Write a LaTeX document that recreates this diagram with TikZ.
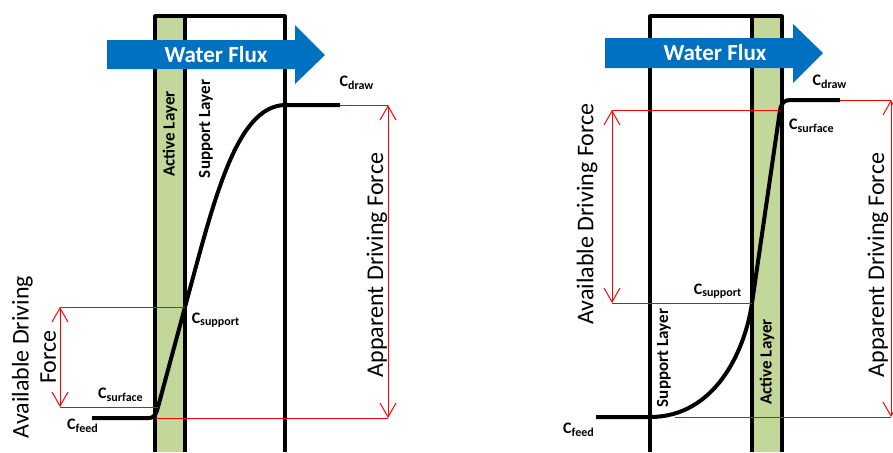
\documentclass[tikz,border=0pt]{standalone}
\usepackage{fontspec}
\setmainfont{Carlito}
\usetikzlibrary{arrows.meta}
\definecolor{fluxBlue}{HTML}{0070C0}
\definecolor{layerGreen}{HTML}{C4D79B}
\newcommand{\conc}[1]{C\textsubscript{#1}}

\begin{document}
\begin{tikzpicture}[x=0.5pt, y=-0.5pt,
  wall/.style={line width=1.6pt, line join=round},
  profile/.style={line width=2pt},
  force/.style={red, line width=0.5pt},
  forcearrow/.style={force, {Straight Barb[length=7pt,width=8pt]}-{Straight Barb[length=7pt,width=8pt]}},
  fluxtext/.style={text=white, font=\fontsize{11.5}{13}\selectfont\bfseries},
  layertext/.style={rotate=90, font=\fontsize{8.5}{10}\selectfont\bfseries},
  conclabel/.style={font=\fontsize{8}{9}\selectfont\bfseries, inner sep=0pt},
  forcetext/.style={rotate=90, font=\fontsize{12}{13.5}\selectfont, align=center}]
\useasboundingbox (0,0) rectangle (893,452);

% left panel
\fill[layerGreen] (155,16) rectangle (185,452);
\draw[wall] (155,452) -- (155,16) -- (285,16) -- (285,452);
\draw[wall] (185,16) -- (185,452);
\fill[fluxBlue] (107,40) -- (295,40) -- (295,25) -- (325,55) -- (295,84) -- (295,69) -- (107,69) -- cycle;
\node[fluxtext] (lflux) at (216,55) {Water Flux};
\node[layertext] (lactive) at (170,134) {Active Layer};
\node[layertext] (lsupport) at (206,129) {Support Layer};

\coordinate (lfeedend) at (92,418);
\coordinate (lfeedcorner) at (156,418);
\coordinate (lsurf) at (158,407);
\coordinate (lsupp) at (185,307);
\coordinate (ldraw) at (285,105);
\coordinate (ldrawend) at (340,105);
\draw[profile] (lfeedend) -- (148,418) .. controls (155,418) and (156,414) .. (lsurf)
  -- (lsupp) .. controls (213,205) and (235,106) .. (ldraw) -- (ldrawend);

\coordinate (lapptop) at (388,105);
\coordinate (lappbot) at (388,418);
\draw[force] (ldrawend) -- (lapptop);
\draw[force] (lfeedcorner) -- (lappbot);
\draw[forcearrow] (lapptop) -- (lappbot);
\coordinate (lavtop) at (60,307);
\coordinate (lavbot) at (60,407);
\draw[force] (lsupp) -- (lavtop);
\draw[force] (lsurf) -- (lavbot);
\draw[forcearrow] (lavtop) -- (lavbot);

\node[conclabel] (ldrawlbl) at (357,83) {\conc{draw}};
\node[conclabel] (lsupplbl) at (216,320) {\conc{support}};
\node[conclabel] (lsurflbl) at (121,395) {\conc{surface}};
\node[conclabel] (lfeedlbl) at (83,426) {\conc{feed}};
\node[forcetext] (lapplbl) at (377,265) {Apparent Driving Force};
\node[forcetext] (lavlbl) at (34,357) {Available Driving\\Force};

% right panel
\fill[layerGreen] (752,16) rectangle (782,452);
\draw[wall] (650,452) -- (650,16) -- (782,16) -- (782,452);
\draw[wall] (752,16) -- (752,452);
\fill[fluxBlue] (605,38) -- (793,38) -- (793,24) -- (823,53) -- (793,83) -- (793,68) -- (605,68) -- cycle;
\node[fluxtext] (rflux) at (715,53) {Water Flux};
\node[layertext] (rsupport) at (664,358) {Support Layer};
\node[layertext] (ractive) at (767,362) {Active Layer};

\coordinate (rfeedend) at (596,417);
\coordinate (rfeedcorner) at (675,417);
\coordinate (rsupp) at (752,303);
\coordinate (rsurf) at (780,110);
\coordinate (rdrawend) at (840,100);
\draw[profile] (rfeedend) -- (650,417) .. controls (715,417) and (745,351) .. (rsupp)
  -- (rsurf) .. controls (782,101) and (785,100) .. (792,100) -- (rdrawend);

\coordinate (rapptop) at (891,100);
\coordinate (rappbot) at (891,417);
\draw[force] (rdrawend) -- (rapptop);
\draw[force] (rfeedcorner) -- (rappbot);
\draw[forcearrow] (rapptop) -- (rappbot);
\coordinate (ravtop) at (612,110);
\coordinate (ravbot) at (612,303);
\draw[force] (rsurf) -- (ravtop);
\draw[force] (rsupp) -- (ravbot);
\draw[forcearrow] (ravtop) -- (ravbot);

\node[conclabel] (rdrawlbl) at (830,82) {\conc{draw}};
\node[conclabel] (rsurflbl) at (812,126) {\conc{surface}};
\node[conclabel] (rsupplbl) at (718,291) {\conc{support}};
\node[conclabel] (rfeedlbl) at (579,430) {\conc{feed}};
\node[forcetext] (rapplbl) at (878,265) {Apparent Driving Force};
\node[forcetext] (ravlbl) at (587,214) {Available Driving Force};
\end{tikzpicture}
\end{document}
